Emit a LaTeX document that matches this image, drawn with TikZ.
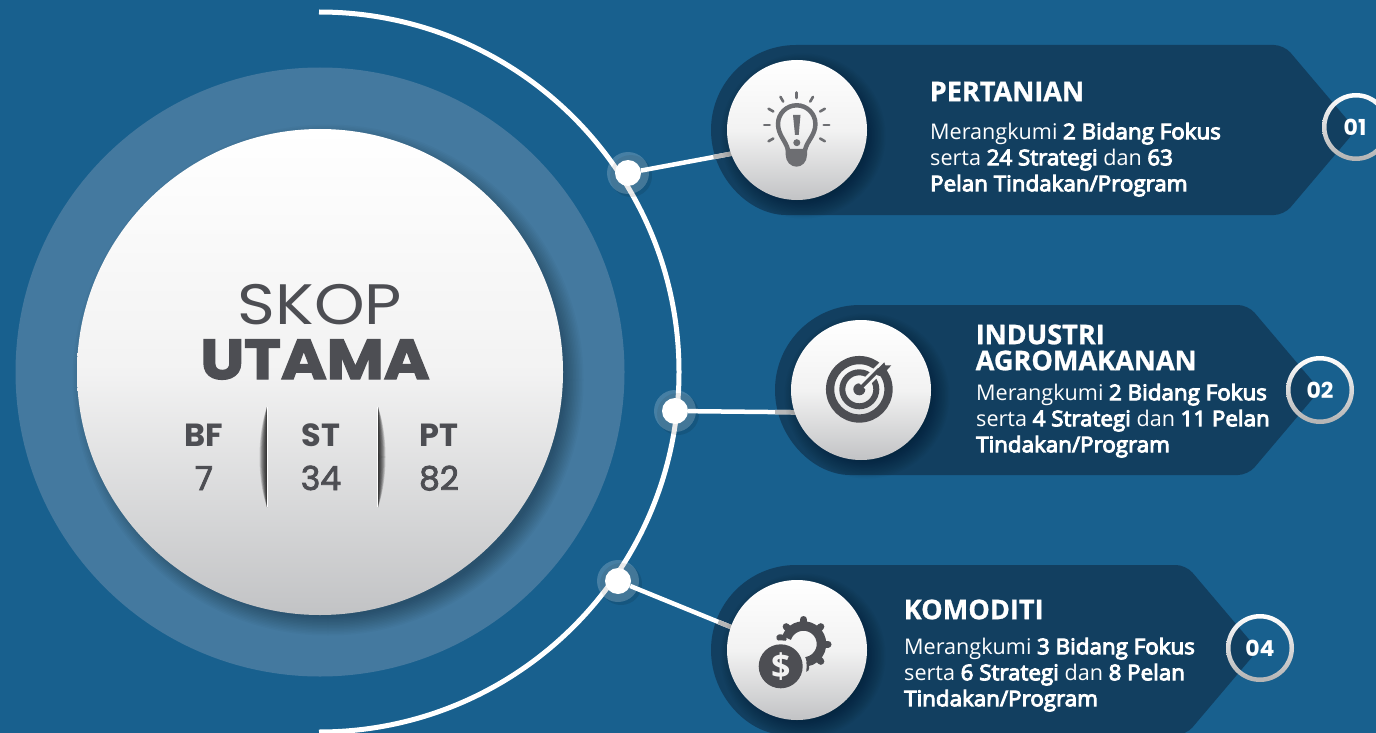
\documentclass[tikz,border=0pt]{standalone}
\usepackage{fontspec}
\usetikzlibrary{calc}
\setmainfont{Open Sans}
\newfontfamily\semif{Open Sans}[FakeStretch=1.035,FakeBold=4.5]
\newcommand{\sbf}[1]{{\semif #1}}
\newfontfamily\headf{Open Sans}[BoldFeatures={FakeBold=1}]
\newfontfamily\popf{Poppins}
\newfontfamily\popskop{Poppins}[FakeStretch=1.13]
\newfontfamily\popblack{Poppins}[FakeStretch=1.11,BoldFeatures={FakeBold=2.6}]
\newfontfamily\popval{Poppins}[FakeBold=2.5]
\definecolor{bgblue}{HTML}{18608E}
\definecolor{ringblue}{HTML}{44799F}
\definecolor{panelblue}{HTML}{123F60}
\definecolor{inkdark}{HTML}{4D4E53}
\definecolor{inkbulb}{HTML}{6D6E72}
\definecolor{disclow}{HTML}{C2C3C5}
\tikzset{
  x=1pt,y=-1pt,
  panelshape/.style={fill=panelblue},
  discnode/.style={circle,inner sep=0pt,minimum size=140pt,top color=white,bottom color=disclow,middle color=white!95!black},
  dotnode/.style={circle,fill=white,inner sep=0pt,minimum size=26pt},
  link/.style={draw=white,line width=4.5pt},
  linkdim/.style={draw=white!72!black,line width=4.5pt},
  headtxt/.style={anchor=north west,inner sep=0pt,text=white,align=left,font=\headf\fontsize{27.1}{26}\selectfont\bfseries},
  bodytxt/.style={anchor=north west,inner sep=0pt,text=white,align=left,font=\fontsize{21.6}{26}\selectfont},
  numtxt/.style={inner sep=0pt,text=white,font=\popf\fontsize{22}{22}\selectfont\bfseries},
  labtxt/.style={anchor=base,inner sep=0pt,text=inkdark,font=\popf\fontsize{32}{32}\selectfont\bfseries},
  valtxt/.style={anchor=base,inner sep=0pt,text=inkdark,font=\popval\fontsize{33}{33}\selectfont},
}
\newcommand{\softshadow}[4]{% x y r offset
  \foreach \i in {0,...,13}{
    \fill[black,opacity=0.024] ({#1+#4},{#2+#4}) circle ({#3-7+\i*1.5});
  }
}
\newcommand{\fr}{\rule{0pt}{20pt}}
\begin{document}
\begin{tikzpicture}
\clip (0,0) rectangle (1376,733);
\fill[bgblue] (0,0) rectangle (1376,733);
% central rings
\fill[ringblue] (320,372) circle (304.5);
\draw[white,line width=5pt] (319,12) arc (-90:90:360);
\softshadow{320}{372}{243}{8}
\node[circle,inner sep=0pt,minimum size=486pt,top color=white,bottom color=disclow,middle color=white!95!black] (main) at (320,372) {};
% central text
\node[anchor=base,inner sep=0pt,text=inkdark,font=\popskop\fontsize{57}{57}\selectfont] (skop) at (320,324) {SKOP};
\node[anchor=base,inner sep=0pt,text=inkdark,font=\popblack\fontsize{56}{56}\selectfont\bfseries] (utama) at (315,379) {UTAMA};
\node[labtxt] (bf) at (204,446) {BF};
\node[labtxt] (st) at (321,446) {ST};
\node[labtxt] (pt) at (439,446) {PT};
\node[valtxt] (v7) at (204,490) {7};
\node[valtxt] (v34) at (321,490) {34};
\node[valtxt] (v82) at (439,490) {82};
% dividers
\foreach \w in {1,...,10}{
  \fill[black,opacity=0.13] (267,407) .. controls ({267-\w},435) and ({267-\w},479) .. (267,507) -- cycle;
  \fill[black,opacity=0.13] (378,407) .. controls ({378+\w},435) and ({378+\w},479) .. (378,507) -- cycle;
}
\draw[white,line width=1pt] (267.5,407) -- (267.5,507);
\draw[white,line width=1pt] (377.5,407) -- (377.5,507);
% panels
\fill[panelshape,rounded corners=10pt] (796,45) -- (1284,45) -- (1356,130) -- (1284,215) -- (796,215) [sharp corners] arc (90:270:85) -- cycle;
\fill[panelshape,rounded corners=10pt] (860,305) -- (1248,305) -- (1320,390) -- (1248,475) -- (860,475) [sharp corners] arc (90:270:85) -- cycle;
\fill[panelshape,rounded corners=10pt] (796,565) -- (1186,565) -- (1258,650) -- (1186,735) -- (796,735) [sharp corners] arc (90:270:85) -- cycle;
% dots
\foreach \x/\y in {628/173,675/411,618/581}{
  \fill[black,opacity=0.10] (\x+3,\y+3) circle (21);
  \fill[white,opacity=0.20] (\x,\y) circle (21);
}
\node[dotnode] (d1) at (628,173) {};
\node[dotnode] (d2) at (675,411) {};
\node[dotnode] (d3) at (618,581) {};
% connectors
\coordinate (c1) at (797,130);
\coordinate (c2) at (861,390);
\coordinate (c3) at (797,650);
\coordinate (e1) at (797,141.5);
\coordinate (e2) at (861,413);
\coordinate (e3) at (797,654);
\draw[link] (d1) -- (e1);
\draw[link] (d2) -- (e2);
\draw[link] (d3) -- (e3);
\draw[linkdim] ($(e1)!85pt!(d1)$) -- (e1);
\draw[linkdim] ($(e2)!86pt!(d2)$) -- (e2);
\draw[linkdim] ($(e3)!85pt!(d3)$) -- (e3);
\softshadow{797}{130}{70}{6}
\softshadow{861}{390}{70}{6}
\softshadow{797}{650}{70}{6}
\node[discnode] (disc1) at (c1) {};
\node[discnode] (disc2) at (c2) {};
\node[discnode] (disc3) at (c3) {};
% bulb icon
\draw[inkbulb,line width=4.5pt] (788,150) .. controls (786,141) and (778,135) .. (778,124) arc (180:360:18.7) .. controls (815.4,135) and (807,141) .. (805,150);
\fill[inkbulb] (785.7,149) -- (807,149) -- (807,155) .. controls (807,162) and (802,166.7) .. (796.5,166.7) .. controls (791,166.7) and (785.7,162) .. (785.7,155) -- cycle;
\fill[inkbulb] (793,115) -- (800.5,115) -- (798.7,135) -- (795,135) -- cycle;
\fill[inkbulb] (796.8,142.7) circle (3.5);
\begin{scope}[shift={(796.7,125)}]
  \foreach \a in {-90,-60,-120,-30,-150,0,180,30,150}{
    \draw[inkbulb,line width=2.6pt,line cap=round] (\a:27) -- (\a:32.5);
  }
\end{scope}
% target icon
\begin{scope}[shift={(859.3,389.3)}]
  \draw[inkdark,line width=8.3pt] (0,0) circle (29.2);
  \draw[inkdark,line width=6pt] (0,0) circle (17);
  \fill[inkdark] (0,0) circle (6);
  \draw[white!96!black,line width=9pt] (3,-3) -- (24,-24);
  \draw[inkdark,line width=3.5pt] (0,0) -- (20,-20);
  \fill[inkdark] (15,-17) -- (25,-27) -- (26,-24) -- (32,-24) -- (22,-13) -- (18,-14) -- cycle;
\end{scope}
% gear icon
\begin{scope}[shift={(803.5,644)}]
  \draw[inkdark,line width=9.5pt] (-160:18) arc (-160:80:18);
  \foreach \a in {-90,-45,0,45,-135,-165,85}{
    \draw[inkdark,line width=7pt,line cap=round] (\a:21) -- (\a:24.5);
  }
\end{scope}
\begin{scope}
  \clip (780.7,666.3) circle (26);
  \node[discnode] at (c3) {};
\end{scope}
\fill[inkdark] (780.7,666.3) circle (22);
\node[inner sep=0pt,text=white!95!black,font=\fontsize{34}{34}\selectfont\bfseries] (dollar) at (780.7,666.3) {\$};
% panel text
\node[headtxt] (h1) at (929.5,81) {\rule{0pt}{20pt}PERTANIAN};
\node[bodytxt] (b1) at (930,119) {\fr Merangkumi \sbf{2 Bidang Fokus}\\serta \sbf{24 Strategi} dan \sbf{63}\\\sbf{Pelan Tindakan/Program}};
\node[headtxt] (h2) at (975.5,324) {\rule{0pt}{20pt}INDUSTRI\\AGROMAKANAN};
\node[bodytxt] (b2) at (976,380) {\fr Merangkumi \sbf{2 Bidang Fokus}\\serta \sbf{4 Strategi} dan \sbf{11 Pelan}\\\sbf{Tindakan/Program}};
\node[headtxt] (h3) at (903.5,599) {\rule{0pt}{20pt}KOMODITI};
\node[bodytxt] (b3) at (904,634) {\fr Merangkumi \sbf{3 Bidang Fokus}\\serta \sbf{6 Strategi} dan \sbf{8 Pelan}\\\sbf{Tindakan/Program}};
% number rings
\shade[top color=white,bottom color=white!70!black,even odd rule] (1356,127) circle (34) (1356,127) circle (29.5);
\shade[top color=white,bottom color=white!70!black,even odd rule] (1320,390) circle (34) (1320,390) circle (29.5);
\shade[top color=white,bottom color=white!70!black,even odd rule] (1260,648) circle (34) (1260,648) circle (29.5);
\node[numtxt] (n1) at (1355,127) {01};
\node[numtxt] (n2) at (1320,390) {02};
\node[numtxt] (n3) at (1260,648) {04};
\end{tikzpicture}
\end{document}
